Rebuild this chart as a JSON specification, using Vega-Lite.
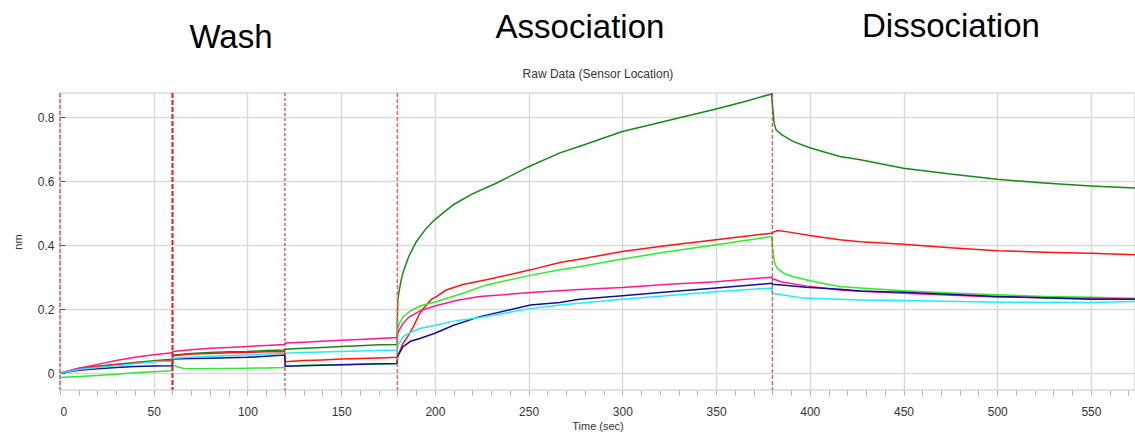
{
  "$schema": "https://vega.github.io/schema/vega-lite/v6.json",
  "width": 1075,
  "height": 297,
  "autosize": "none",
  "padding": {"left": 60, "top": 93, "right": 0, "bottom": 44},
  "background": "white",
  "config": {
    "view": {"stroke": "#d9d9d9", "strokeWidth": 1.5},
    "axis": {"domain": false, "gridColor": "#d9d9d9", "gridWidth": 1.5, "labelFont": "Liberation Sans", "labelFontSize": 12, "labelColor": "#333333", "titleFont": "Liberation Sans", "titleFontSize": 11, "titleFontWeight": "normal", "titleColor": "#333333", "labelOverlap": false}
  },
  "datasets": {
    "series": [
      {"sensor": "A", "t": 0, "nm": 0}, {"sensor": "A", "t": 5, "nm": 0.008}, {"sensor": "A", "t": 10, "nm": 0.015}, {"sensor": "A", "t": 20, "nm": 0.022}, {"sensor": "A", "t": 30, "nm": 0.028}, {"sensor": "A", "t": 40, "nm": 0.034}, {"sensor": "A", "t": 50, "nm": 0.039}, {"sensor": "A", "t": 59.8, "nm": 0.044}, {"sensor": "A", "t": 60.2, "nm": 0.057}, {"sensor": "A", "t": 70, "nm": 0.062}, {"sensor": "A", "t": 80, "nm": 0.065}, {"sensor": "A", "t": 90, "nm": 0.067}, {"sensor": "A", "t": 100, "nm": 0.068}, {"sensor": "A", "t": 110, "nm": 0.071}, {"sensor": "A", "t": 119.8, "nm": 0.073}, {"sensor": "A", "t": 120.2, "nm": 0.075}, {"sensor": "A", "t": 130, "nm": 0.078}, {"sensor": "A", "t": 140, "nm": 0.081}, {"sensor": "A", "t": 150, "nm": 0.084}, {"sensor": "A", "t": 160, "nm": 0.086}, {"sensor": "A", "t": 170, "nm": 0.089}, {"sensor": "A", "t": 179.8, "nm": 0.09}, {"sensor": "A", "t": 180.2, "nm": 0.23}, {"sensor": "A", "t": 181, "nm": 0.26}, {"sensor": "A", "t": 182, "nm": 0.29}, {"sensor": "A", "t": 183, "nm": 0.315}, {"sensor": "A", "t": 186, "nm": 0.364}, {"sensor": "A", "t": 190, "nm": 0.41}, {"sensor": "A", "t": 195, "nm": 0.45}, {"sensor": "A", "t": 200, "nm": 0.48}, {"sensor": "A", "t": 210, "nm": 0.527}, {"sensor": "A", "t": 220, "nm": 0.56}, {"sensor": "A", "t": 233, "nm": 0.594}, {"sensor": "A", "t": 250, "nm": 0.645}, {"sensor": "A", "t": 266.7, "nm": 0.688}, {"sensor": "A", "t": 277, "nm": 0.708}, {"sensor": "A", "t": 300, "nm": 0.755}, {"sensor": "A", "t": 325, "nm": 0.79}, {"sensor": "A", "t": 350, "nm": 0.825}, {"sensor": "A", "t": 365, "nm": 0.848}, {"sensor": "A", "t": 379.6, "nm": 0.872}, {"sensor": "A", "t": 380.2, "nm": 0.83}, {"sensor": "A", "t": 381, "nm": 0.78}, {"sensor": "A", "t": 382, "nm": 0.76}, {"sensor": "A", "t": 385, "nm": 0.745}, {"sensor": "A", "t": 391, "nm": 0.724}, {"sensor": "A", "t": 400, "nm": 0.704}, {"sensor": "A", "t": 416, "nm": 0.677}, {"sensor": "A", "t": 427, "nm": 0.667}, {"sensor": "A", "t": 450, "nm": 0.64}, {"sensor": "A", "t": 475, "nm": 0.622}, {"sensor": "A", "t": 500, "nm": 0.606}, {"sensor": "A", "t": 525, "nm": 0.594}, {"sensor": "A", "t": 550, "nm": 0.585}, {"sensor": "A", "t": 574, "nm": 0.578},

      {"sensor": "B", "t": 0, "nm": 0}, {"sensor": "B", "t": 10, "nm": 0.015}, {"sensor": "B", "t": 20, "nm": 0.021}, {"sensor": "B", "t": 30, "nm": 0.027}, {"sensor": "B", "t": 40, "nm": 0.032}, {"sensor": "B", "t": 50, "nm": 0.037}, {"sensor": "B", "t": 59.8, "nm": 0.04}, {"sensor": "B", "t": 60.2, "nm": 0.055}, {"sensor": "B", "t": 70, "nm": 0.06}, {"sensor": "B", "t": 80, "nm": 0.062}, {"sensor": "B", "t": 90, "nm": 0.064}, {"sensor": "B", "t": 100, "nm": 0.065}, {"sensor": "B", "t": 110, "nm": 0.067}, {"sensor": "B", "t": 119.8, "nm": 0.068}, {"sensor": "B", "t": 120.2, "nm": 0.036}, {"sensor": "B", "t": 130, "nm": 0.04}, {"sensor": "B", "t": 140, "nm": 0.042}, {"sensor": "B", "t": 150, "nm": 0.045}, {"sensor": "B", "t": 160, "nm": 0.046}, {"sensor": "B", "t": 170, "nm": 0.048}, {"sensor": "B", "t": 179.8, "nm": 0.05}, {"sensor": "B", "t": 180.2, "nm": 0.055}, {"sensor": "B", "t": 181, "nm": 0.065}, {"sensor": "B", "t": 183, "nm": 0.094}, {"sensor": "B", "t": 185, "nm": 0.11}, {"sensor": "B", "t": 188, "nm": 0.14}, {"sensor": "B", "t": 192, "nm": 0.1875}, {"sensor": "B", "t": 195, "nm": 0.21}, {"sensor": "B", "t": 198, "nm": 0.23}, {"sensor": "B", "t": 201, "nm": 0.24}, {"sensor": "B", "t": 206, "nm": 0.26}, {"sensor": "B", "t": 215, "nm": 0.277}, {"sensor": "B", "t": 227.5, "nm": 0.292}, {"sensor": "B", "t": 251, "nm": 0.323}, {"sensor": "B", "t": 266.7, "nm": 0.346}, {"sensor": "B", "t": 277, "nm": 0.356}, {"sensor": "B", "t": 300, "nm": 0.38}, {"sensor": "B", "t": 325, "nm": 0.4}, {"sensor": "B", "t": 350, "nm": 0.417}, {"sensor": "B", "t": 379.6, "nm": 0.4375}, {"sensor": "B", "t": 380.2, "nm": 0.44}, {"sensor": "B", "t": 383, "nm": 0.446}, {"sensor": "B", "t": 390, "nm": 0.44}, {"sensor": "B", "t": 400, "nm": 0.43}, {"sensor": "B", "t": 416, "nm": 0.417}, {"sensor": "B", "t": 427, "nm": 0.411}, {"sensor": "B", "t": 450, "nm": 0.403}, {"sensor": "B", "t": 475, "nm": 0.392}, {"sensor": "B", "t": 500, "nm": 0.383}, {"sensor": "B", "t": 525, "nm": 0.378}, {"sensor": "B", "t": 550, "nm": 0.375}, {"sensor": "B", "t": 574, "nm": 0.37},

      {"sensor": "C", "t": 0, "nm": -0.013}, {"sensor": "C", "t": 10, "nm": -0.01}, {"sensor": "C", "t": 20, "nm": -0.007}, {"sensor": "C", "t": 30, "nm": -0.003}, {"sensor": "C", "t": 40, "nm": 0.002}, {"sensor": "C", "t": 50, "nm": 0.005}, {"sensor": "C", "t": 59.8, "nm": 0.008}, {"sensor": "C", "t": 60.2, "nm": 0.026}, {"sensor": "C", "t": 63, "nm": 0.02}, {"sensor": "C", "t": 67, "nm": 0.014}, {"sensor": "C", "t": 80, "nm": 0.014}, {"sensor": "C", "t": 90, "nm": 0.015}, {"sensor": "C", "t": 100, "nm": 0.016}, {"sensor": "C", "t": 110, "nm": 0.017}, {"sensor": "C", "t": 119.8, "nm": 0.018}, {"sensor": "C", "t": 120.2, "nm": 0.022}, {"sensor": "C", "t": 130, "nm": 0.025}, {"sensor": "C", "t": 150, "nm": 0.027}, {"sensor": "C", "t": 170, "nm": 0.029}, {"sensor": "C", "t": 179.8, "nm": 0.03}, {"sensor": "C", "t": 180.2, "nm": 0.14}, {"sensor": "C", "t": 181, "nm": 0.155}, {"sensor": "C", "t": 183, "nm": 0.177}, {"sensor": "C", "t": 187, "nm": 0.195}, {"sensor": "C", "t": 192, "nm": 0.21}, {"sensor": "C", "t": 201, "nm": 0.224}, {"sensor": "C", "t": 215, "nm": 0.25}, {"sensor": "C", "t": 227.5, "nm": 0.276}, {"sensor": "C", "t": 250, "nm": 0.305}, {"sensor": "C", "t": 266.7, "nm": 0.323}, {"sensor": "C", "t": 277, "nm": 0.333}, {"sensor": "C", "t": 300, "nm": 0.357}, {"sensor": "C", "t": 325, "nm": 0.38}, {"sensor": "C", "t": 350, "nm": 0.401}, {"sensor": "C", "t": 379.6, "nm": 0.427}, {"sensor": "C", "t": 380.2, "nm": 0.39}, {"sensor": "C", "t": 381, "nm": 0.35}, {"sensor": "C", "t": 382, "nm": 0.335}, {"sensor": "C", "t": 383, "nm": 0.325}, {"sensor": "C", "t": 387, "nm": 0.31}, {"sensor": "C", "t": 391, "nm": 0.302}, {"sensor": "C", "t": 398, "nm": 0.292}, {"sensor": "C", "t": 405, "nm": 0.283}, {"sensor": "C", "t": 416, "nm": 0.271}, {"sensor": "C", "t": 427, "nm": 0.266}, {"sensor": "C", "t": 450, "nm": 0.258}, {"sensor": "C", "t": 475, "nm": 0.251}, {"sensor": "C", "t": 500, "nm": 0.245}, {"sensor": "C", "t": 525, "nm": 0.24}, {"sensor": "C", "t": 550, "nm": 0.2375}, {"sensor": "C", "t": 574, "nm": 0.234},

      {"sensor": "D", "t": 0, "nm": 0}, {"sensor": "D", "t": 5, "nm": 0.008}, {"sensor": "D", "t": 10, "nm": 0.016}, {"sensor": "D", "t": 20, "nm": 0.028}, {"sensor": "D", "t": 30, "nm": 0.04}, {"sensor": "D", "t": 40, "nm": 0.05}, {"sensor": "D", "t": 50, "nm": 0.058}, {"sensor": "D", "t": 59.8, "nm": 0.064}, {"sensor": "D", "t": 60.2, "nm": 0.068}, {"sensor": "D", "t": 70, "nm": 0.074}, {"sensor": "D", "t": 80, "nm": 0.078}, {"sensor": "D", "t": 90, "nm": 0.081}, {"sensor": "D", "t": 100, "nm": 0.084}, {"sensor": "D", "t": 110, "nm": 0.087}, {"sensor": "D", "t": 119.8, "nm": 0.09}, {"sensor": "D", "t": 120.2, "nm": 0.095}, {"sensor": "D", "t": 130, "nm": 0.097}, {"sensor": "D", "t": 140, "nm": 0.1}, {"sensor": "D", "t": 150, "nm": 0.103}, {"sensor": "D", "t": 160, "nm": 0.106}, {"sensor": "D", "t": 170, "nm": 0.109}, {"sensor": "D", "t": 179.8, "nm": 0.112}, {"sensor": "D", "t": 180.2, "nm": 0.125}, {"sensor": "D", "t": 181, "nm": 0.135}, {"sensor": "D", "t": 183, "nm": 0.156}, {"sensor": "D", "t": 186, "nm": 0.175}, {"sensor": "D", "t": 192, "nm": 0.195}, {"sensor": "D", "t": 200, "nm": 0.21}, {"sensor": "D", "t": 212, "nm": 0.228}, {"sensor": "D", "t": 224, "nm": 0.24}, {"sensor": "D", "t": 251, "nm": 0.252}, {"sensor": "D", "t": 277, "nm": 0.262}, {"sensor": "D", "t": 300, "nm": 0.268}, {"sensor": "D", "t": 325, "nm": 0.278}, {"sensor": "D", "t": 350, "nm": 0.286}, {"sensor": "D", "t": 379.6, "nm": 0.3}, {"sensor": "D", "t": 380.2, "nm": 0.295}, {"sensor": "D", "t": 385, "nm": 0.285}, {"sensor": "D", "t": 398, "nm": 0.273}, {"sensor": "D", "t": 416, "nm": 0.26}, {"sensor": "D", "t": 427, "nm": 0.256}, {"sensor": "D", "t": 450, "nm": 0.25}, {"sensor": "D", "t": 500, "nm": 0.238}, {"sensor": "D", "t": 550, "nm": 0.234}, {"sensor": "D", "t": 574, "nm": 0.231},

      {"sensor": "E", "t": 0, "nm": 0}, {"sensor": "E", "t": 10, "nm": 0.01}, {"sensor": "E", "t": 20, "nm": 0.014}, {"sensor": "E", "t": 30, "nm": 0.018}, {"sensor": "E", "t": 40, "nm": 0.021}, {"sensor": "E", "t": 50, "nm": 0.023}, {"sensor": "E", "t": 59.8, "nm": 0.024}, {"sensor": "E", "t": 60.2, "nm": 0.045}, {"sensor": "E", "t": 70, "nm": 0.046}, {"sensor": "E", "t": 80, "nm": 0.047}, {"sensor": "E", "t": 90, "nm": 0.049}, {"sensor": "E", "t": 100, "nm": 0.05}, {"sensor": "E", "t": 110, "nm": 0.053}, {"sensor": "E", "t": 119.8, "nm": 0.057}, {"sensor": "E", "t": 120.2, "nm": 0.022}, {"sensor": "E", "t": 130, "nm": 0.024}, {"sensor": "E", "t": 150, "nm": 0.027}, {"sensor": "E", "t": 170, "nm": 0.03}, {"sensor": "E", "t": 179.8, "nm": 0.031}, {"sensor": "E", "t": 180.2, "nm": 0.055}, {"sensor": "E", "t": 181, "nm": 0.062}, {"sensor": "E", "t": 183, "nm": 0.083}, {"sensor": "E", "t": 187, "nm": 0.1}, {"sensor": "E", "t": 192, "nm": 0.109}, {"sensor": "E", "t": 200, "nm": 0.125}, {"sensor": "E", "t": 210, "nm": 0.15}, {"sensor": "E", "t": 224, "nm": 0.177}, {"sensor": "E", "t": 251, "nm": 0.213}, {"sensor": "E", "t": 266.7, "nm": 0.221}, {"sensor": "E", "t": 277, "nm": 0.231}, {"sensor": "E", "t": 300, "nm": 0.242}, {"sensor": "E", "t": 325, "nm": 0.255}, {"sensor": "E", "t": 350, "nm": 0.266}, {"sensor": "E", "t": 379.6, "nm": 0.281}, {"sensor": "E", "t": 380.2, "nm": 0.278}, {"sensor": "E", "t": 385, "nm": 0.276}, {"sensor": "E", "t": 398, "nm": 0.269}, {"sensor": "E", "t": 416, "nm": 0.2625}, {"sensor": "E", "t": 427, "nm": 0.257}, {"sensor": "E", "t": 450, "nm": 0.253}, {"sensor": "E", "t": 500, "nm": 0.24}, {"sensor": "E", "t": 550, "nm": 0.231}, {"sensor": "E", "t": 574, "nm": 0.231},

      {"sensor": "F", "t": 0, "nm": 0}, {"sensor": "F", "t": 10, "nm": 0.012}, {"sensor": "F", "t": 20, "nm": 0.018}, {"sensor": "F", "t": 30, "nm": 0.024}, {"sensor": "F", "t": 40, "nm": 0.03}, {"sensor": "F", "t": 50, "nm": 0.036}, {"sensor": "F", "t": 59.8, "nm": 0.038}, {"sensor": "F", "t": 60.2, "nm": 0.047}, {"sensor": "F", "t": 70, "nm": 0.05}, {"sensor": "F", "t": 80, "nm": 0.053}, {"sensor": "F", "t": 90, "nm": 0.055}, {"sensor": "F", "t": 100, "nm": 0.057}, {"sensor": "F", "t": 110, "nm": 0.06}, {"sensor": "F", "t": 119.8, "nm": 0.062}, {"sensor": "F", "t": 120.2, "nm": 0.063}, {"sensor": "F", "t": 130, "nm": 0.065}, {"sensor": "F", "t": 150, "nm": 0.068}, {"sensor": "F", "t": 170, "nm": 0.071}, {"sensor": "F", "t": 179.8, "nm": 0.073}, {"sensor": "F", "t": 180.2, "nm": 0.09}, {"sensor": "F", "t": 181, "nm": 0.094}, {"sensor": "F", "t": 183, "nm": 0.114}, {"sensor": "F", "t": 187, "nm": 0.128}, {"sensor": "F", "t": 192, "nm": 0.14}, {"sensor": "F", "t": 201, "nm": 0.151}, {"sensor": "F", "t": 210, "nm": 0.163}, {"sensor": "F", "t": 224, "nm": 0.174}, {"sensor": "F", "t": 251, "nm": 0.202}, {"sensor": "F", "t": 266.7, "nm": 0.213}, {"sensor": "F", "t": 277, "nm": 0.219}, {"sensor": "F", "t": 300, "nm": 0.231}, {"sensor": "F", "t": 325, "nm": 0.243}, {"sensor": "F", "t": 350, "nm": 0.255}, {"sensor": "F", "t": 379.6, "nm": 0.266}, {"sensor": "F", "t": 380.2, "nm": 0.25}, {"sensor": "F", "t": 385, "nm": 0.245}, {"sensor": "F", "t": 398, "nm": 0.234}, {"sensor": "F", "t": 416, "nm": 0.231}, {"sensor": "F", "t": 427, "nm": 0.229}, {"sensor": "F", "t": 450, "nm": 0.227}, {"sensor": "F", "t": 500, "nm": 0.222}, {"sensor": "F", "t": 550, "nm": 0.221}, {"sensor": "F", "t": 574, "nm": 0.224}
    ],
    "phases": [
      {"label": "Wash", "t": 91.2, "nm": 1.0145},
      {"label": "Association", "t": 277.4, "nm": 1.0457},
      {"label": "Dissociation", "t": 475.3, "nm": 1.0507}
    ],
    "heading": [
      {"label": "Raw Data (Sensor Location)", "t": 287, "nm": 0.921}
    ]
  },
  "encoding": {
    "x": {"field": "t", "type": "quantitative", "scale": {"domain": [0, 573.5], "nice": false, "zero": false},
      "axis": {"title": "Time (sec)", "values": [0,10,20,30,40,50,60,70,80,90,100,110,120,130,140,150,160,170,180,190,200,210,220,230,240,250,260,270,280,290,300,310,320,330,340,350,360,370,380,390,400,410,420,430,440,450,460,470,480,490,500,510,520,530,540,550,560,570],
        "labelExpr": "datum.value % 50 == 0 ? datum.label : ''",
        "gridOpacity": {"condition": {"test": "datum.value % 50 == 0", "value": 1}, "value": 0},
        "tickColor": "#b0b0b0", "tickSize": 5, "tickWidth": 1, "labelPadding": 11, "titlePadding": 3}}
  },
  "layer": [
    {
      "data": {"name": "series"},
      "mark": {"type": "line", "strokeWidth": 1.5, "clip": true},
      "encoding": {
        "y": {"field": "nm", "type": "quantitative", "scale": {"domain": [-0.052, 0.875], "nice": false, "zero": false},
          "axis": {"title": "nm", "values": [0,0.05,0.1,0.15,0.2,0.25,0.3,0.35,0.4,0.45,0.5,0.55,0.6,0.65,0.7,0.75,0.8,0.85],
            "labelExpr": "abs(datum.value*5-round(datum.value*5))<0.001 ? format(datum.value, '~g') : ''",
            "gridOpacity": {"condition": {"test": "abs(datum.value*5-round(datum.value*5))<0.001", "value": 1}, "value": 0},
            "tickColor": "#555555", "tickSize": -5, "tickWidth": 1, "labelPadding": 11, "titlePadding": 14}},
        "color": {"field": "sensor", "type": "nominal", "legend": null,
          "scale": {"domain": ["A","B","C","D","E","F"], "range": ["#148a14", "#ff1414", "#2cec2c", "#ff1a8c", "#10109a", "#20ecf8"]}}
      }
    },
    {
      "data": {"values": [{"t": 0}, {"t": 380}]},
      "mark": {"type": "rule", "color": "#ff2020", "strokeWidth": 1, "strokeDash": [4, 2]},
      "encoding": {}
    },
    {
      "data": {"values": [{"t": 60}]},
      "mark": {"type": "rule", "color": "#ff1010", "strokeWidth": 2, "strokeDash": [5, 2]},
      "encoding": {}
    },
    {
      "data": {"values": [{"t": 120}]},
      "mark": {"type": "rule", "color": "#d01010", "strokeWidth": 1, "strokeDash": [3, 2]},
      "encoding": {}
    },
    {
      "data": {"values": [{"t": 180}]},
      "mark": {"type": "rule", "color": "#ff5a5a", "strokeWidth": 1.5, "strokeDash": [4, 2]},
      "encoding": {}
    },
    {
      "data": {"name": "phases"},
      "mark": {"type": "text", "font": "Liberation Sans", "fontSize": 33, "align": "center", "baseline": "alphabetic", "color": "#000000"},
      "encoding": {
        "y": {"field": "nm", "type": "quantitative"},
        "text": {"field": "label"}
      }
    },
    {
      "data": {"name": "heading"},
      "mark": {"type": "text", "font": "Liberation Sans", "fontSize": 12, "align": "center", "baseline": "alphabetic", "color": "#333333"},
      "encoding": {
        "y": {"field": "nm", "type": "quantitative"},
        "text": {"field": "label"}
      }
    }
  ]
}
